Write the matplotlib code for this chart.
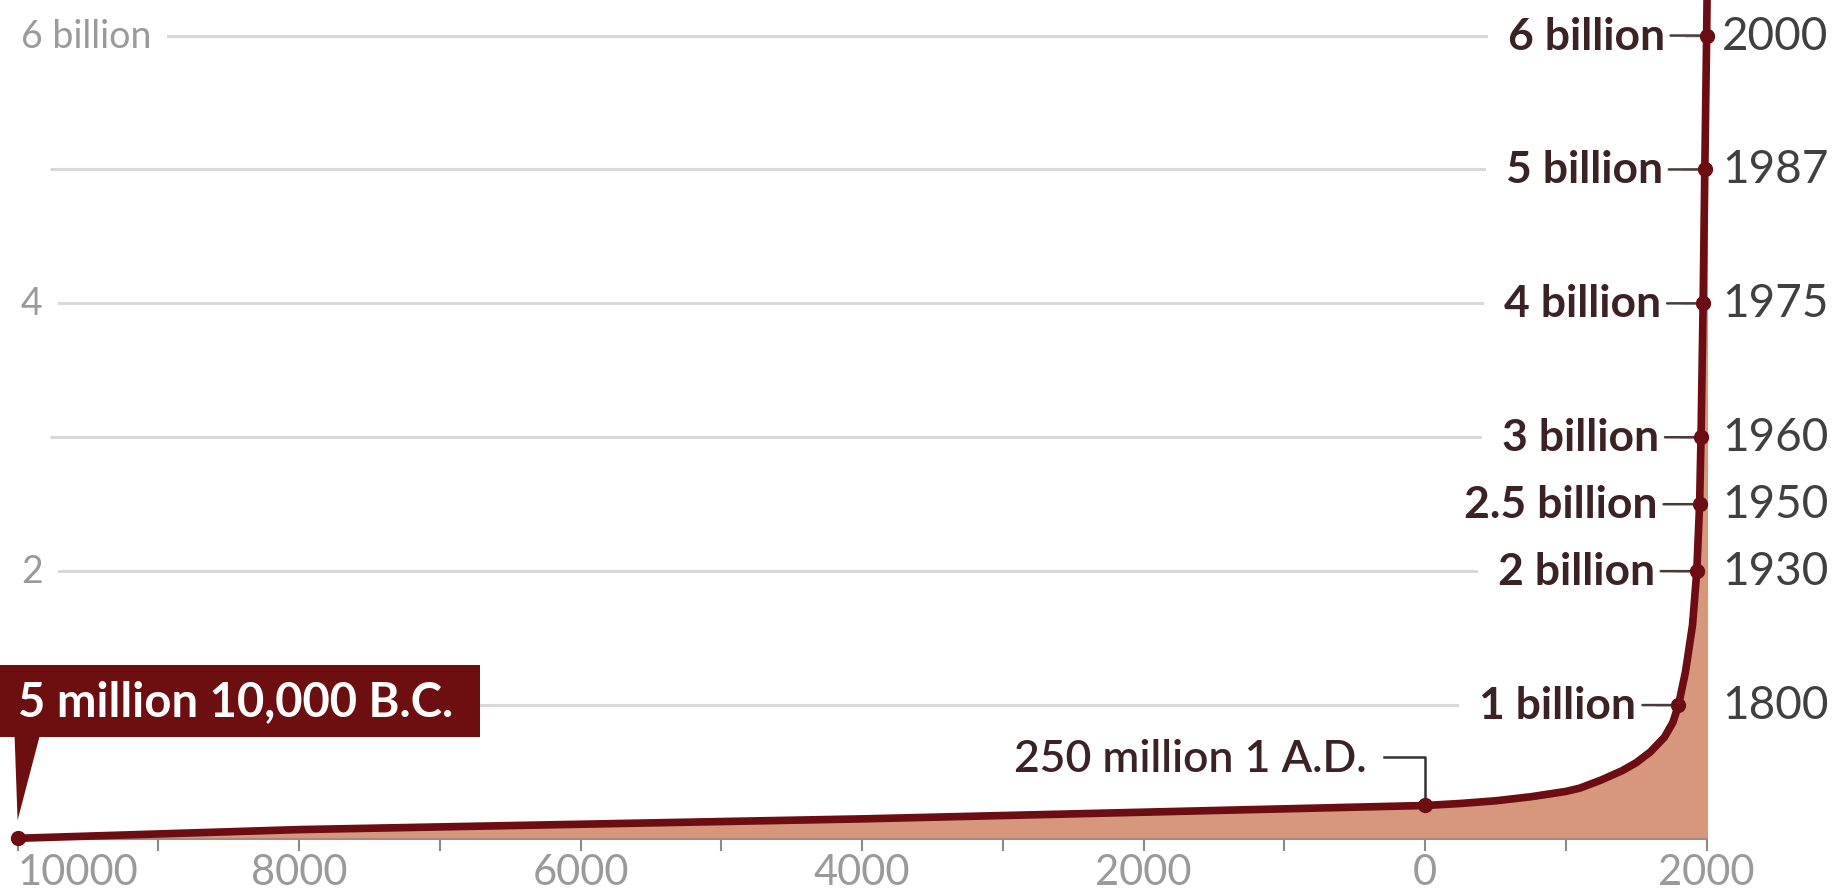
import numpy as np
import matplotlib
matplotlib.use('Agg')
import matplotlib.pyplot as plt
from matplotlib.patches import Polygon, Rectangle
from matplotlib.transforms import IdentityTransform

# world population (billions) along the drawn curve
curve_years = [-10000, -8000, -6000, -4000, -2000, 1, 250, 500, 750, 1000, 1100, 1250,
               1400, 1500, 1600, 1700, 1760, 1800, 1850, 1900, 1930, 1950, 1960,
               1975, 1987, 2000, 2010]
curve_pop = [0.005, 0.07, 0.11, 0.15, 0.2, 0.25, 0.265, 0.285, 0.315, 0.355, 0.38, 0.44,
             0.51, 0.57, 0.65, 0.76, 0.87, 1.0, 1.25, 1.6, 2.0, 2.5, 3.0,
             4.0, 5.0, 6.0, 6.9]

milestone_years = [1800, 1930, 1950, 1960, 1975, 1987, 2000]
milestone_pop = [1, 2, 2.5, 3, 4, 5, 6]
milestone_labels = ['1 billion', '2 billion', '2.5 billion', '3 billion',
                    '4 billion', '5 billion', '6 billion']

start_year, start_pop = -10000, 0.005
ad_year, ad_pop = 1, 0.25

grid_levels = [1, 2, 3, 4, 5, 6]
left_levels = [2, 4, 6]
left_labels = ['2', '4', '6 billion']

tick_years = list(range(-10000, 2001, 1000))
label_years = list(range(-10000, 2001, 2000))

line_color = '#6b0d12'
fill_color = '#d6977d'
grid_color = '#d9d9d9'
label_color = '#3b2224'
year_color = '#404040'
axis_text = '#9a9a9a'

plt.rcParams['font.family'] = ['Lato', 'DejaVu Sans']

fig = plt.figure(figsize=(18.45, 8.95), dpi=100)
ax = fig.add_axes([0, 0, 1, 1])
ax.set_xlim(-10125, 2983)
ax.set_ylim(-0.411, 6.273)
ax.axis('off')

# gridlines stop where the curve reaches each level
reach = dict(zip(milestone_pop, milestone_years))
for lv in grid_levels:
    ax.hlines(lv, -9770, reach[lv], color=grid_color, lw=2.2, zorder=1)

for lv, txt in zip(left_levels, left_labels):
    ax.text(-9975, lv, txt, ha='left', va='center', fontsize=27, color=axis_text,
            bbox=dict(boxstyle='square,pad=0.4', fc='white', ec='none'), zorder=2)

# area and line
ax.fill_between(curve_years, curve_pop, 0, color=fill_color, lw=0, zorder=3.5)
ax.plot(curve_years, curve_pop, color=line_color, lw=5.5, solid_capstyle='round',
        solid_joinstyle='round', zorder=4)
ax.plot(milestone_years + [start_year, ad_year], milestone_pop + [start_pop, ad_pop],
        'o', color=line_color, ms=10, zorder=6)

# baseline and ticks
ax.hlines(0, -10000, 2000, color='#a08c84', lw=1.5, zorder=3.6)
ax.vlines(tick_years, -0.09, 0, color='#8a8a8a', lw=1.5, zorder=2)
for yr in label_years:
    if yr == -10000:
        ax.text(yr, -0.246, str(abs(yr)), ha='left', va='center', fontsize=30, color=axis_text)
    else:
        ax.text(yr, -0.246, str(abs(yr)), ha='center', va='center', fontsize=30, color=axis_text)

# milestone labels on the right
for yr, pop, txt in zip(milestone_years, milestone_pop, milestone_labels):
    ax.annotate(txt, xy=(yr, pop), xytext=(-42, 0), textcoords='offset pixels',
                ha='right', va='center', fontsize=32, fontweight='bold', color=label_color,
                bbox=dict(boxstyle='square,pad=0.45', fc='white', ec='none'), zorder=3)
    ax.annotate('', xy=(yr, pop), xytext=(-36, 0), textcoords='offset pixels',
                arrowprops=dict(arrowstyle='-', color='#4a3a3a', lw=1.8,
                                shrinkA=0, shrinkB=0), zorder=5)
    ax.text(2109, pop, str(yr), ha='left', va='center', fontsize=33, color=year_color)

# 1 A.D. callout with elbow leader
ax.annotate('250 million 1 A.D.', xy=(ad_year, ad_pop), xytext=(-59, 47),
            textcoords='offset pixels', ha='right', va='center', fontsize=32,
            fontweight='semibold', color=label_color, zorder=5)
px, py = ax.transData.transform((ad_year, ad_pop))
ax.add_line(plt.Line2D([px - 41, px, px], [py + 48, py + 48, py + 6],
                       transform=IdentityTransform(), color='#333333', lw=1.8, zorder=5))

# 10,000 B.C. flag
sx, sy = ax.transData.transform((start_year, start_pop))
ax.add_patch(Rectangle((sx - 30, sy + 101), 492, 72, transform=IdentityTransform(),
                       fc='#6d0e10', ec='none', zorder=7))
ax.add_patch(Polygon([(sx - 3, sy + 102), (sx + 22, sy + 102), (sx, sy + 18)],
                     closed=True, transform=IdentityTransform(),
                     fc='#6d0e10', ec='none', zorder=7))
ax.annotate('5 million 10,000 B.C.', xy=(start_year, start_pop), xytext=(0, 137),
            textcoords='offset pixels', ha='left', va='center', fontsize=34,
            fontweight='bold', color='white', zorder=8)

fig.savefig('out.png', dpi=100)
